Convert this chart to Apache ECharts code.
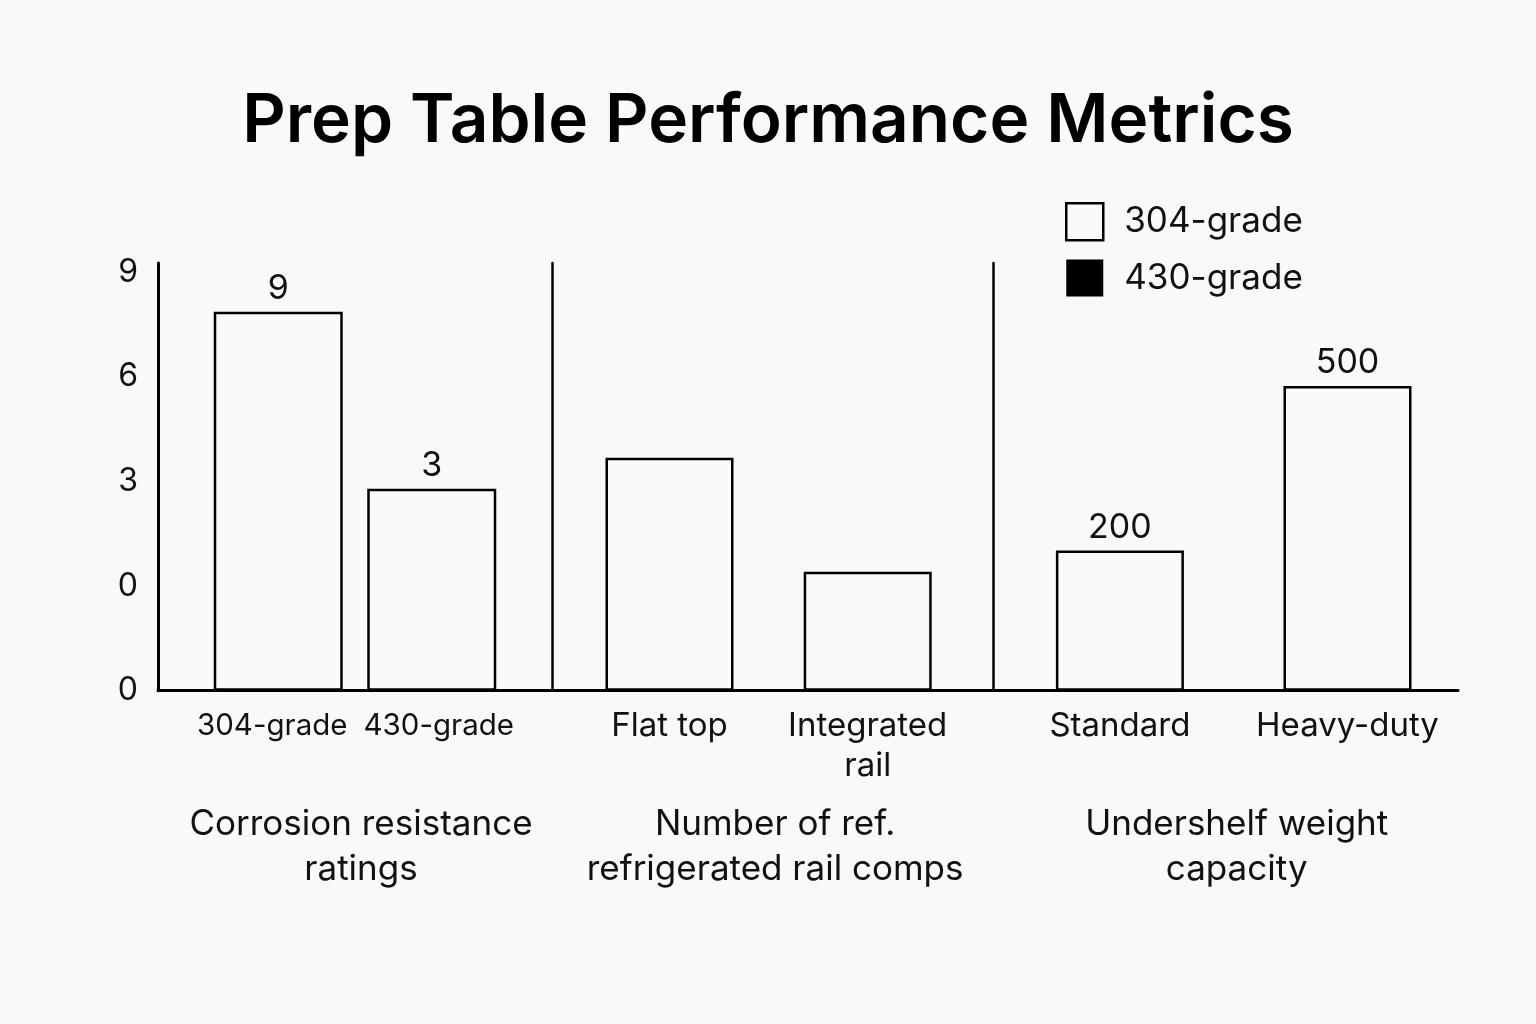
<!DOCTYPE html>
<html>
<head>
<meta charset="utf-8">
<script src="https://cdn.jsdelivr.net/npm/echarts@6/dist/echarts.min.js"></script>
<style>
html,body{margin:0;padding:0;background:#f9f9f9;}
#chart{width:1536px;height:1024px;}
</style>
</head>
<body>
<div id="chart"></div>
<script>
const titleText = 'Prep Table Performance Metrics';
const legendNames = ['304-grade', '430-grade'];
const yTickLabels = ['0', '0', '3', '6', '9'];
const groupNames = ['Corrosion resistance\nratings', 'Number of ref.\nrefrigerated rail comps', 'Undershelf weight\ncapacity'];
const corrosionCategories = ['304-grade', '430-grade'];
const corrosionValues = [3.62, 1.93];
const corrosionLabels = ['9', '3'];
const railCategories = ['Flat top', 'Integrated\nrail'];
const railValues = [2.225, 1.135];
const railLabels = ['', ''];
const shelfCategories = ['Standard', 'Heavy-duty'];
const shelfValues = [1.34, 2.91];
const shelfLabels = ['200', '500'];

const FONT = 'Inter, "Noto Sans", sans-serif';
const INK = '#000';
const Y_MAX = 4.085;
const TOP = 263, BOTTOM = 333.3;

const subGrids = [
  {left: 201.5, width: 307, offset: 43.3, labelSize: 29.5, namePad: [0, 0, 0, 12], barWidth: 129,
   labelPads: [[0, 12, 0, 0], [0, 0, 0, 14]]},
  {left: 570.4, width: 396.4, offset: 17.7, labelSize: 33, namePad: [0, 0, 0, 13], barWidth: 128,
   labelPads: [[0, 0, 0, 0], [0, 0, 0, 0]]},
  {left: 1006.1, width: 455.2, offset: 12.8, labelSize: 33, namePad: [0, 0, 0, 6], barWidth: 128,
   labelPads: [[0, 0, 0, 0], [0, 0, 0, 0]]}
];
const groups = [
  {cats: corrosionCategories, vals: corrosionValues, labels: corrosionLabels},
  {cats: railCategories, vals: railValues, labels: railLabels},
  {cats: shelfCategories, vals: shelfValues, labels: shelfLabels}
];

const grid = [{left: 158, right: 78, top: TOP, bottom: BOTTOM}];
const xAxis = [{
  gridIndex: 0, type: 'value', min: 0, max: 1,
  axisLine: {show: true, onZero: false, lineStyle: {color: INK, width: 3}},
  axisTick: {show: false}, axisLabel: {show: false}, splitLine: {show: false}
}];
const yAxis = [{
  gridIndex: 0, type: 'value', min: 0, max: Y_MAX, interval: 1,
  axisLine: {show: true, lineStyle: {color: INK, width: 3}},
  axisTick: {show: false}, splitLine: {show: false},
  axisLabel: {
    color: '#111', fontFamily: FONT, fontSize: 32, margin: 20,
    showMaxLabel: true,
    formatter: function (v) {
      return Number.isInteger(v) && yTickLabels[v] !== undefined ? yTickLabels[v] : '';
    }
  }
}];
const series = [];

groups.forEach(function (g, i) {
  const sg = subGrids[i];
  grid.push({left: sg.left, width: sg.width, top: TOP, bottom: BOTTOM});
  xAxis.push({
    gridIndex: i + 1, type: 'category',
    data: g.cats.map(function (c, k) { return {value: c, textStyle: {padding: sg.labelPads[k]}}; }),
    axisLine: {show: false}, axisTick: {show: false}, splitLine: {show: false},
    axisLabel: {color: '#111', fontFamily: FONT, fontSize: sg.labelSize, lineHeight: 40, margin: 15, interval: 0},
    name: groupNames[i], nameLocation: 'middle', nameGap: 111,
    nameTextStyle: {color: '#111', fontFamily: FONT, fontSize: 35, lineHeight: 45, padding: sg.namePad}
  });
  yAxis.push({
    gridIndex: i + 1, type: 'value', min: 0, max: Y_MAX, interval: 1,
    offset: sg.offset,
    axisLine: {show: i > 0, lineStyle: {color: INK, width: 2.5}},
    axisTick: {show: false}, axisLabel: {show: false}, splitLine: {show: false}
  });
  series.push({
    name: legendNames[0], type: 'bar', xAxisIndex: i + 1, yAxisIndex: i + 1,
    data: g.vals, barWidth: sg.barWidth,
    itemStyle: {color: '#fafafa', borderColor: INK, borderWidth: 2.5},
    label: {
      show: true, position: 'top', distance: 6,
      color: '#111', fontFamily: FONT, fontSize: 34,
      formatter: function (p) { return g.labels[p.dataIndex]; }
    },
    silent: true
  });
});
series.push({
  name: legendNames[1], type: 'scatter', xAxisIndex: 0, yAxisIndex: 0, data: [],
  itemStyle: {color: INK, opacity: 1}
});

const chart = echarts.init(document.getElementById('chart'));
chart.setOption({
  backgroundColor: '#f9f9f9',
  animation: false,
  title: {
    text: titleText, left: 'center', top: 83,
    textStyle: {color: '#000', fontFamily: FONT, fontSize: 67.5, fontWeight: 600}
  },
  legend: {
    orient: 'vertical', left: 1065, top: 202, padding: 0,
    itemWidth: 37, itemHeight: 37, itemGap: 18,
    selectedMode: false, icon: 'rect',
    textStyle: {color: '#111', fontFamily: FONT, fontSize: 35, padding: [0, 0, 0, 16]},
    data: [
      {name: legendNames[0], itemStyle: {color: '#fafafa', borderColor: INK, borderWidth: 2.5, opacity: 1}},
      {name: legendNames[1], itemStyle: {color: INK, borderWidth: 0, opacity: 1}}
    ]
  },
  grid: grid,
  xAxis: xAxis,
  yAxis: yAxis,
  series: series
});
</script>
</body>
</html>
